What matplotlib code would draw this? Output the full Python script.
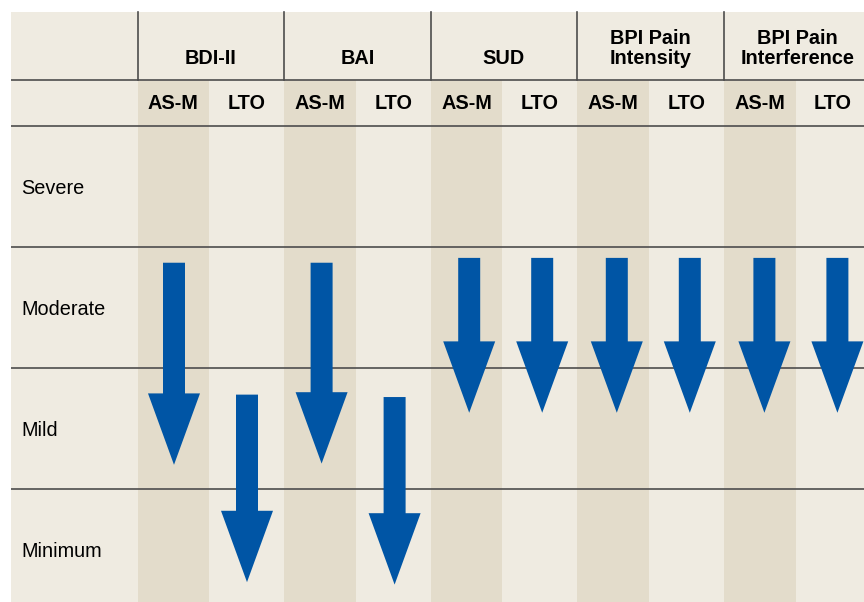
import matplotlib
matplotlib.use("Agg")
import matplotlib.pyplot as plt
import matplotlib.patches as mpatches

measures = ['BDI-II', 'BAI', 'SUD', 'BPI Pain\nIntensity', 'BPI Pain\nInterference']
groups = ['AS-M', 'LTO']
levels = ['Minimum', 'Mild', 'Moderate', 'Severe']
# arrow start/end in severity units (0 = bottom of Minimum, 4 = top of Severe)
asm_start = [2.87, 2.87, 2.91, 2.91, 2.91]
asm_end = [1.20, 1.21, 1.63, 1.63, 1.63]
lto_start = [1.78, 1.76, 2.91, 2.91, 2.91]
lto_end = [0.23, 0.21, 1.63, 1.63, 1.63]

bg = '#efebe1'
shade = '#e3dccb'
blue = '#0055a5'
line = '#4d4d4d'
font = ['Liberation Sans', 'DejaVu Sans']


def py(px):
    # pixel row -> severity units (121 px per level)
    return (610 - px) / 121.0


fig = plt.figure(figsize=(8.64, 6.02), dpi=100)
ax = fig.add_axes([0, 0, 1, 1])
ax.set_xlim(0, 864)
ax.set_ylim(py(602), py(0))
ax.axis('off')

left = 11
x0 = 137.5
gw = 146.6
sw = 71.7
arrow_step = 147.6

ax.add_patch(mpatches.Rectangle((left, py(602)), 864 - left, py(12) - py(602), color=bg, lw=0, zorder=0))
for i in range(len(measures)):
    gx = x0 + i * gw
    ax.add_patch(mpatches.Rectangle((gx, py(602)), sw, py(80) - py(602), color=shade, lw=0, zorder=1))

# grid lines
for yv in [1, 2, 3, 4, py(79.5)]:
    ax.plot([left, 864], [yv, yv], color=line, lw=1.2, zorder=2, solid_capstyle='butt')
for i in range(len(measures)):
    gx = x0 + i * gw
    ax.plot([gx, gx], [py(79.5), py(12)], color=line, lw=1.2, zorder=2)

# text
for k, lab in enumerate(levels):
    ax.text(21, k + 0.5 - 0.015, lab, fontsize=14.3, family=font, ha='left', va='center', zorder=3)
for i, m in enumerate(measures):
    gx = x0 + i * gw
    ax.text(gx + gw / 2, py(68.5), m, fontsize=14.3, family=font, weight='bold',
            ha='center', va='bottom', linespacing=1.12, zorder=3)
    ax.text(gx + sw / 2, py(103.5), groups[0], fontsize=14.3, family=font, weight='bold',
            ha='center', va='center', zorder=3)
    ax.text(gx + sw + (gw - sw) / 2, py(103.5), groups[1], fontsize=14.3, family=font, weight='bold',
            ha='center', va='center', zorder=3)

# arrows
for i in range(len(measures)):
    ax_x = 174 + i * arrow_step
    for cx, s, e in [(ax_x, asm_start[i], asm_end[i]),
                     (ax_x + 73, lto_start[i], lto_end[i])]:
        arr = mpatches.FancyArrow(cx, s, 0, e - s, width=22, head_width=52, head_length=0.59,
                                  length_includes_head=True, color=blue, lw=0, zorder=4)
        ax.add_patch(arr)

fig.savefig('out.png', dpi=100, facecolor='white')
